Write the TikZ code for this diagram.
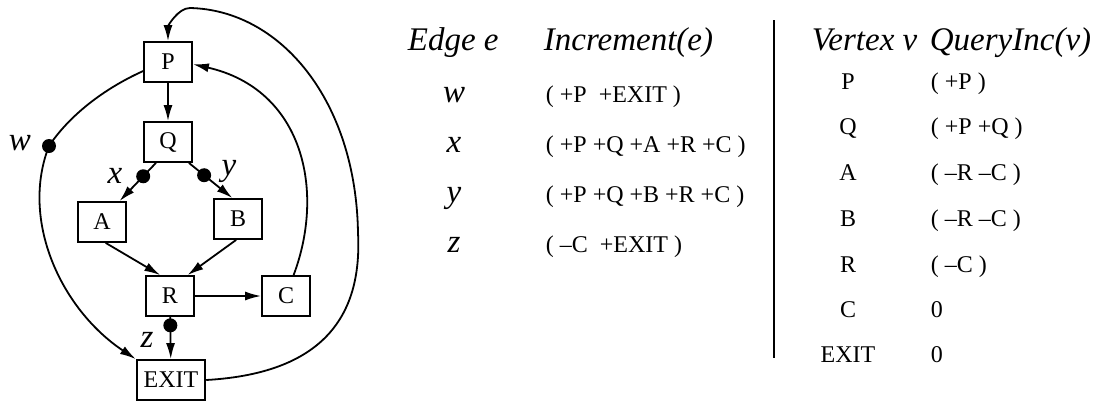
\documentclass[tikz,border=0pt]{standalone}
\usepackage{fontspec}
\setmainfont{Liberation Serif}
\usetikzlibrary{arrows.meta}

\begin{document}
\begin{tikzpicture}[
            x=0.5pt, y=-0.5pt,
            line width=0.9pt,
            vbox/.style={draw, fill=white, minimum width=24pt, minimum height=20pt, inner xsep=3.5pt, inner ysep=0pt, font=\fontsize{12}{14}\selectfont},
            dot/.style={circle, fill, inner sep=0pt, minimum size=7pt},
            lbl/.style={font=\fontsize{16.5}{18}\selectfont\itshape},
            head/.style={font=\fontsize{16.5}{18}\selectfont\itshape, anchor=base west, inner sep=0pt},
            var/.style={font=\fontsize{16.5}{18}\selectfont\itshape, anchor=base, inner sep=0pt},
            vname/.style={font=\fontsize{12}{14}\selectfont, anchor=base, inner sep=0pt},
            val/.style={font=\fontsize{12}{14}\selectfont, anchor=base west, inner sep=0pt},
            arrow/.style={-{Latex[length=8pt,width=4.5pt]}}
        ]
        \useasboundingbox (0,0) rectangle (1106,402);

        % flow graph
        \node[vbox] (P) at (168,62) {P};
        \node[vbox] (Q) at (168,142) {Q};
        \node[vbox] (A) at (102,222) {A};
        \node[vbox] (B) at (238,219) {B};
        \node[vbox] (R) at (170,296) {R};
        \node[vbox] (C) at (286,296) {C};
        \node[vbox] (EXIT) at (171,380) {EXIT};
        \node[dot] (wdot) at (49,146) {};
        \coordinate (loopR) at (358,233);
        \coordinate (loopT) at (190,8);

        \draw[arrow] (P) -- (Q);
        \draw[arrow] (P.200) .. controls +(-40,18) and +(20,-30) .. (wdot.center)
            .. controls +(-29,74) and +(-75,-50) .. (EXIT.north west);
        \draw[arrow] (Q.240) -- node[dot, pos=0.35] (xdot) {} (A.50);
        \draw[arrow] (Q.315) -- node[dot, pos=0.35] (ydot) {} (B.105);
        \draw[arrow] (A.280) -- (R.115);
        \draw[arrow] (B.265) -- (R.50);
        \draw[arrow] (R) -- (C);
        \draw[arrow] (R) -- node[dot, pos=0.2] (zdot) {} (EXIT);
        \draw[arrow] (C.70) .. controls +(32,-85) and +(110,25) .. (P.-5);
        \draw[arrow] (EXIT.east) .. controls +(123,-7) and +(4,77) .. (loopR)
            .. controls +(-2,-133) and +(90,2) .. (loopT)
            .. controls +(-12,0) and +(0,-15) .. (P.north);

        \node[lbl] (wlbl) at (20,143) {w};
        \node[lbl] (xlbl) at (115,176) {x};
        \node[lbl] (ylbl) at (229,171) {y};
        \node[lbl] (zlbl) at (147,340) {z};

        % edge table
        \node[head] (ehead) at (407,50) {Edge e};
        \node[head] (ihead) at (543,50) {Increment(e)};
        \node[var] (ew) at (454,102) {w};
        \node[var] (ex) at (454,152) {x};
        \node[var] (ey) at (454,202) {y};
        \node[var] (ez) at (454,252) {z};
        \node[val] (iw) at (545,102) {( +P\ \ +EXIT )};
        \node[val] (ix) at (545,152) {( +P +Q +A +R +C )};
        \node[val] (iy) at (545,202) {( +P +Q +B +R +C )};
        \node[val] (iz) at (545,252) {( \textendash C\ \ +EXIT )};

        % vertex table
        \draw (774,20) -- (774,358);
        \node[head] (vhead) at (811,50) {Vertex v};
        \node[head] (qhead) at (929,50) {QueryInc(v)};
        \node[vname] (vP) at (848,89) {P};
        \node[vname] (vQ) at (848,134) {Q};
        \node[vname] (vA) at (848,180) {A};
        \node[vname] (vB) at (848,226) {B};
        \node[vname] (vR) at (848,272) {R};
        \node[vname] (vC) at (848,317) {C};
        \node[vname] (vEXIT) at (848,362) {EXIT};
        \node[val] (qP) at (930,89) {( +P )};
        \node[val] (qQ) at (930,134) {( +P +Q )};
        \node[val] (qA) at (930,180) {( \textendash R \textendash C )};
        \node[val] (qB) at (930,226) {( \textendash R \textendash C )};
        \node[val] (qR) at (930,272) {( \textendash C )};
        \node[val] (qC) at (930,317) {0};
        \node[val] (qEXIT) at (930,362) {0};
\end{tikzpicture}
\end{document}
